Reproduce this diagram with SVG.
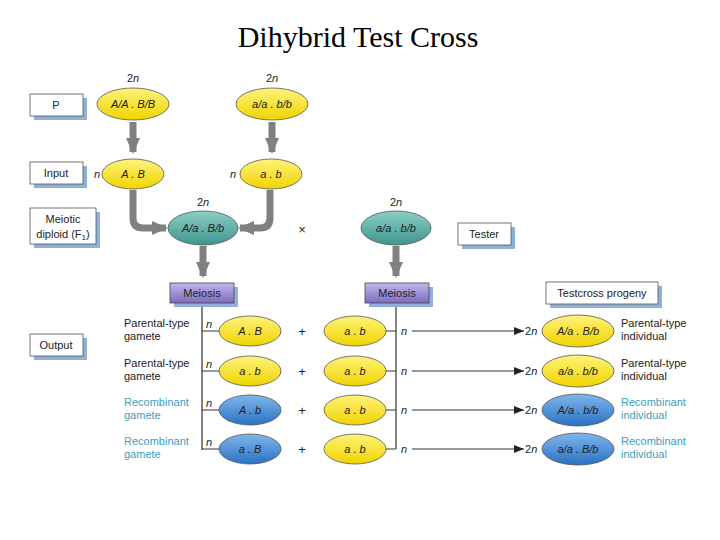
<svg xmlns="http://www.w3.org/2000/svg" width="720" height="540" viewBox="0 0 720 540">
<defs>
<linearGradient id="yel" x1="0" y1="0" x2="0" y2="1"><stop offset="0" stop-color="#fff27a"/><stop offset="1" stop-color="#f0d400"/></linearGradient>
<linearGradient id="blu" x1="0" y1="0" x2="0" y2="1"><stop offset="0" stop-color="#7fb6ea"/><stop offset="1" stop-color="#2a72c4"/></linearGradient>
<linearGradient id="teal" x1="0" y1="0" x2="0" y2="1"><stop offset="0" stop-color="#8ccfc7"/><stop offset="1" stop-color="#3f958c"/></linearGradient>
<linearGradient id="pur" x1="0" y1="0" x2="0" y2="1"><stop offset="0" stop-color="#c2b6ea"/><stop offset="1" stop-color="#7c6cc0"/></linearGradient>
<marker id="ah" markerWidth="10" markerHeight="8" refX="10" refY="4" orient="auto" markerUnits="userSpaceOnUse"><path d="M0,0 L10,4 L0,8 Z" fill="#222"/></marker>
<marker id="gh" markerWidth="18" markerHeight="14" refX="14" refY="7" orient="auto" markerUnits="userSpaceOnUse"><path d="M0,0 L16,7 L0,14 Z" fill="#808080"/></marker>
</defs>
<style>
.t{font-family:"Liberation Sans",Arial,sans-serif;font-size:11px;fill:#222}
.g{font-family:"Liberation Sans",Arial,sans-serif;font-size:11px;fill:#222;font-style:italic;text-anchor:middle}
.two{font-family:"Liberation Sans",Arial,sans-serif;font-size:11px;fill:#222;text-anchor:middle}
.i{font-style:italic}
.c{fill:#3aa0c0}
.lb{fill:#fff;stroke:#555;stroke-width:0.8}
.sh{fill:#8fb0d8}
.e{stroke:#555;stroke-width:0.8}
.ln{stroke:#333;stroke-width:1.2;fill:none}
.big{stroke:#808080;stroke-width:7;fill:none}
.pl{font-family:"Liberation Sans",Arial,sans-serif;font-size:13px;fill:#222;text-anchor:middle}
</style>
<text x="358" y="47" font-family="Liberation Serif,serif" font-size="30" text-anchor="middle" fill="#000">Dihybrid Test Cross</text>

<g id="label-p"><rect class="sh" x="34" y="98" width="53" height="22"/><rect class="lb" x="30" y="94" width="53" height="22"/><text class="t" x="56" y="109" text-anchor="middle">P</text></g>
<g id="label-input"><rect class="sh" x="34" y="166" width="53" height="22"/><rect class="lb" x="30" y="162" width="53" height="22"/><text class="t" x="56" y="177" text-anchor="middle">Input</text></g>
<g id="label-f1"><rect class="sh" x="34" y="212" width="66" height="36"/><rect class="lb" x="30" y="208" width="66" height="36"/><text class="t" x="63" y="223" text-anchor="middle">Meiotic</text><text class="t" x="63" y="238" text-anchor="middle">diploid (F<tspan font-size="8" dy="2">1</tspan><tspan dy="-2">)</tspan></text></g>
<g id="label-output"><rect class="sh" x="34" y="338" width="53" height="22"/><rect class="lb" x="30" y="334" width="53" height="22"/><text class="t" x="56" y="349" text-anchor="middle">Output</text></g>
<g id="label-tester"><rect class="sh" x="462" y="227" width="53" height="22"/><rect class="lb" x="458" y="223" width="53" height="22"/><text class="t" x="484" y="238" text-anchor="middle">Tester</text></g>
<g id="label-progeny"><rect class="sh" x="550" y="286" width="112" height="22"/><rect class="lb" x="546" y="282" width="112" height="22"/><text class="t" x="602" y="297" text-anchor="middle">Testcross progeny</text></g>

<g id="connectors">
<path class="big" d="M133,122 V152" marker-end="url(#gh)"/>
<path class="big" d="M272,122 V152" marker-end="url(#gh)"/>
<path class="big" d="M133,190 V218 Q133,228 143,228 H166" marker-end="url(#gh)"/>
<path class="big" d="M270,190 V218 Q270,228 260,228 H240" marker-end="url(#gh)"/>
<path class="big" d="M203,246 V276" marker-end="url(#gh)"/>
<path class="big" d="M396,246 V276" marker-end="url(#gh)"/>
<path class="ln" d="M202,303 V450 M202,331 H219 M202,371 H219 M202,410 H219 M202,449 H219"/>
<path class="ln" d="M396,303 V449 M386,331 H396 M386,371 H396 M386,410 H396 M386,449 H396"/>
<path class="ln" d="M412,331 H524" marker-end="url(#ah)"/>
<path class="ln" d="M412,371 H524" marker-end="url(#ah)"/>
<path class="ln" d="M412,410 H524" marker-end="url(#ah)"/>
<path class="ln" d="M412,449 H524" marker-end="url(#ah)"/>
</g>

<g id="p1"><text class="two" x="133" y="82">2<tspan class="i">n</tspan></text><ellipse class="e" cx="133" cy="104" rx="36" ry="16" fill="url(#yel)"/><text class="g" x="133" y="108">A/A . B/B</text></g>
<g id="p2"><text class="two" x="272" y="82">2<tspan class="i">n</tspan></text><ellipse class="e" cx="272" cy="104" rx="36" ry="16" fill="url(#yel)"/><text class="g" x="272" y="108">a/a . b/b</text></g>
<g id="in1"><text class="g" x="97" y="178">n</text><ellipse class="e" cx="133" cy="174" rx="31" ry="15" fill="url(#yel)"/><text class="g" x="133" y="178">A . B</text></g>
<g id="in2"><text class="g" x="233" y="178">n</text><ellipse class="e" cx="271" cy="174" rx="31" ry="15" fill="url(#yel)"/><text class="g" x="271" y="178">a . b</text></g>
<g id="f1"><text class="two" x="203" y="206">2<tspan class="i">n</tspan></text><ellipse class="e" cx="203" cy="228" rx="35" ry="17" fill="url(#teal)"/><text class="g" x="203" y="232">A/a . B/b</text></g>
<text class="pl" x="302" y="234" fill="#555">×</text>
<g id="tester"><text class="two" x="396" y="206">2<tspan class="i">n</tspan></text><ellipse class="e" cx="396" cy="228" rx="35" ry="17" fill="url(#teal)"/><text class="g" x="396" y="232">a/a . b/b</text></g>
<g id="meiosis1"><rect class="sh" x="174" y="287" width="64" height="20"/><rect x="170" y="283" width="64" height="20" fill="url(#pur)" stroke="#444" stroke-width="0.8"/><text class="t" x="202" y="297" text-anchor="middle">Meiosis</text></g>
<g id="meiosis2"><rect class="sh" x="369" y="287" width="64" height="20"/><rect x="365" y="283" width="64" height="20" fill="url(#pur)" stroke="#444" stroke-width="0.8"/><text class="t" x="397" y="297" text-anchor="middle">Meiosis</text></g>

<g id="row1">
<text class="t" x="124" y="327">Parental-type</text><text class="t" x="124" y="340">gamete</text>
<text class="g" x="209" y="328">n</text><ellipse class="e" cx="250" cy="331" rx="31" ry="15" fill="url(#yel)"/><text class="g" x="250" y="335">A . B</text>
<text class="pl" x="302" y="336">+</text>
<ellipse class="e" cx="355" cy="331" rx="31" ry="15" fill="url(#yel)"/><text class="g" x="355" y="335">a . b</text><text class="g" x="404" y="335">n</text>
<text class="t" x="525" y="335">2<tspan class="i">n</tspan></text>
<ellipse class="e" cx="578" cy="331" rx="36" ry="16" fill="url(#yel)"/><text class="g" x="578" y="335">A/a . B/b</text>
<text class="t" x="621" y="327">Parental-type</text><text class="t" x="621" y="340">individual</text>
</g>
<g id="row2">
<text class="t" x="124" y="367">Parental-type</text><text class="t" x="124" y="380">gamete</text>
<text class="g" x="209" y="368">n</text><ellipse class="e" cx="250" cy="371" rx="31" ry="15" fill="url(#yel)"/><text class="g" x="250" y="375">a . b</text>
<text class="pl" x="302" y="376">+</text>
<ellipse class="e" cx="355" cy="371" rx="31" ry="15" fill="url(#yel)"/><text class="g" x="355" y="375">a . b</text><text class="g" x="404" y="375">n</text>
<text class="t" x="525" y="375">2<tspan class="i">n</tspan></text>
<ellipse class="e" cx="578" cy="371" rx="36" ry="16" fill="url(#yel)"/><text class="g" x="578" y="375">a/a . b/b</text>
<text class="t" x="621" y="367">Parental-type</text><text class="t" x="621" y="380">individual</text>
</g>
<g id="row3">
<text class="t c" x="124" y="406">Recombinant</text><text class="t c" x="124" y="419">gamete</text>
<text class="g" x="209" y="407">n</text><ellipse class="e" cx="250" cy="410" rx="31" ry="15" fill="url(#blu)"/><text class="g" x="250" y="414">A . b</text>
<text class="pl" x="302" y="415">+</text>
<ellipse class="e" cx="355" cy="410" rx="31" ry="15" fill="url(#yel)"/><text class="g" x="355" y="414">a . b</text><text class="g" x="404" y="414">n</text>
<text class="t" x="525" y="414">2<tspan class="i">n</tspan></text>
<ellipse class="e" cx="578" cy="410" rx="36" ry="16" fill="url(#blu)"/><text class="g" x="578" y="414">A/a . b/b</text>
<text class="t c" x="621" y="406">Recombinant</text><text class="t c" x="621" y="419">individual</text>
</g>
<g id="row4">
<text class="t c" x="124" y="445">Recombinant</text><text class="t c" x="124" y="458">gamete</text>
<text class="g" x="209" y="446">n</text><ellipse class="e" cx="250" cy="449" rx="31" ry="15" fill="url(#blu)"/><text class="g" x="250" y="453">a . B</text>
<text class="pl" x="302" y="454">+</text>
<ellipse class="e" cx="355" cy="449" rx="31" ry="15" fill="url(#yel)"/><text class="g" x="355" y="453">a . b</text><text class="g" x="404" y="453">n</text>
<text class="t" x="525" y="453">2<tspan class="i">n</tspan></text>
<ellipse class="e" cx="578" cy="449" rx="36" ry="16" fill="url(#blu)"/><text class="g" x="578" y="453">a/a . B/b</text>
<text class="t c" x="621" y="445">Recombinant</text><text class="t c" x="621" y="458">individual</text>
</g>
</svg>
